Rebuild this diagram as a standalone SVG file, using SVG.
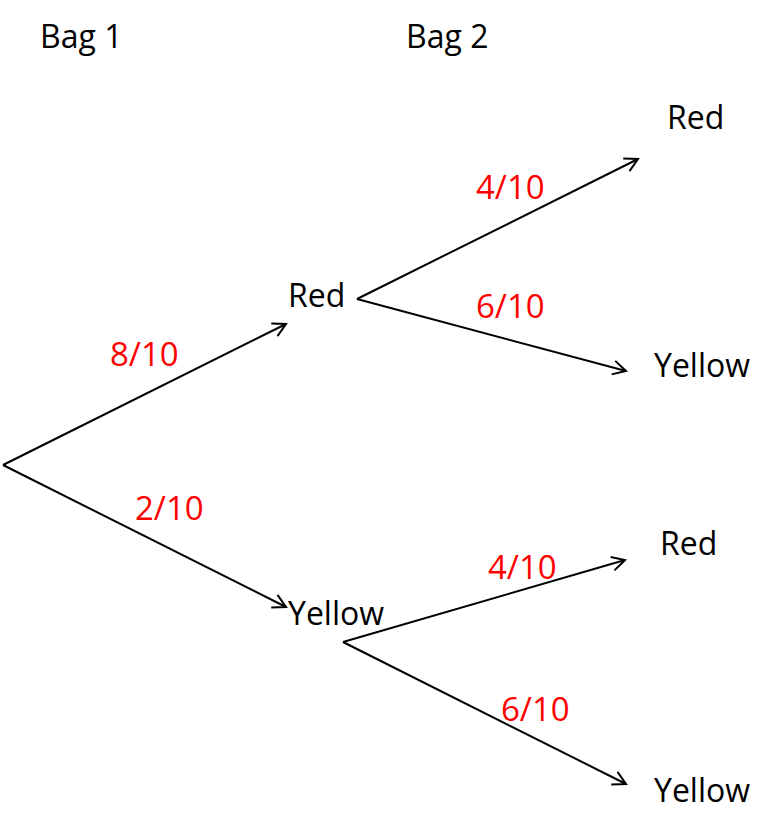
<svg xmlns="http://www.w3.org/2000/svg" width="777" height="823" viewBox="0 0 777 823">
<defs>
<marker id="arr" markerUnits="userSpaceOnUse" markerWidth="20" markerHeight="20" refX="14" refY="8" orient="auto">
<path d="M1,1 L14,8 L1,15" fill="none" stroke="#000" stroke-width="2"/>
</marker>
<style>
.t{font-family:"Open Sans","Noto Sans","Liberation Sans",sans-serif;font-size:32px;fill:#000}
.p{font-family:"Open Sans","Noto Sans","Liberation Sans",sans-serif;font-size:33px;fill:#ff0000}
.e{stroke:#000;stroke-width:2;fill:none;marker-end:url(#arr)}
</style>
</defs>
<rect width="777" height="823" fill="#fff"/>
<g id="headers">
<text class="t" x="40" y="48">Bag 1</text>
<text class="t" x="406" y="48">Bag 2</text>
</g>
<g id="connectors">
<line class="e" x1="3" y1="465" x2="286" y2="324"/>
<line class="e" x1="3" y1="465" x2="286" y2="607"/>
<line class="e" x1="357" y1="299" x2="638" y2="159"/>
<line class="e" x1="357" y1="299" x2="626" y2="371"/>
<line class="e" x1="343" y1="642" x2="625" y2="560"/>
<line class="e" x1="343" y1="642" x2="626" y2="784"/>
</g>
<g id="labels">
<text class="p" x="110" y="366">8/10</text>
<text class="p" x="135" y="520">2/10</text>
<text class="p" x="476" y="199">4/10</text>
<text class="p" x="476" y="318">6/10</text>
<text class="p" x="488" y="579">4/10</text>
<text class="p" x="501" y="721">6/10</text>
</g>
<g id="node-red1"><text class="t" x="288" y="307">Red</text></g>
<g id="node-yellow1"><text class="t" x="288" y="625">Yellow</text></g>
<g id="node-red-red"><text class="t" x="667" y="129">Red</text></g>
<g id="node-red-yellow"><text class="t" x="654" y="377">Yellow</text></g>
<g id="node-yellow-red"><text class="t" x="660" y="555">Red</text></g>
<g id="node-yellow-yellow"><text class="t" x="654" y="802">Yellow</text></g>
</svg>
